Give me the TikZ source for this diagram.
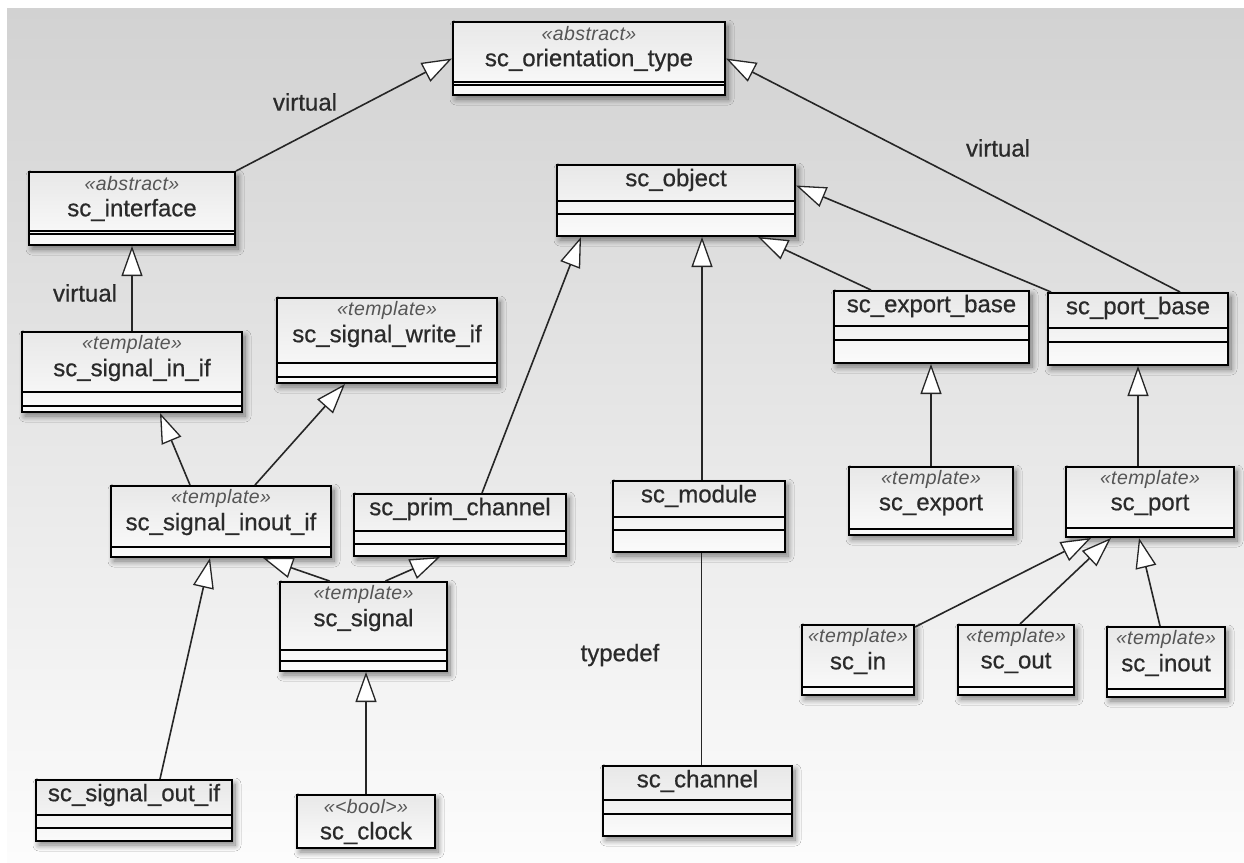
\documentclass[tikz,border=0pt]{standalone}
\usepackage{fontspec}
\setmainfont{Liberation Sans}
\newfontfamily\namefont[FakeBold=0.6]{Liberation Sans}
\newfontfamily\stereofont[LetterSpace=2]{Liberation Sans}
\usetikzlibrary{arrows.meta,calc,shadows.blur}

\definecolor{bgtop}{HTML}{D2D2D2}
\definecolor{bgbot}{HTML}{FCFCFC}
\definecolor{ink}{HTML}{2A2A2A}
\definecolor{stink}{HTML}{555555}
\definecolor{boxtop}{HTML}{E8E8E8}
\definecolor{boxbot}{HTML}{FBFBFB}

\tikzset{
  classbox/.style={rectangle, draw=black, line width=2pt, inner sep=0pt,
    top color=boxtop, bottom color=boxbot,
    blur shadow={shadow xshift=3pt, shadow yshift=-4pt, shadow blur steps=10,
      shadow blur radius=6pt, shadow opacity=50}},
  compline/.style={draw=black, line width=1.5pt},
  titletext/.style={inner sep=0pt, text=ink, font=\namefont\fontsize{24}{26}\selectfont},
  stereotext/.style={inner sep=0pt, text=stink, font=\stereofont\itshape\fontsize{19.5}{21}\selectfont},
  labeltext/.style={inner sep=0pt, text=ink, font=\namefont\fontsize{24}{26}\selectfont},
  inherit/.style={draw=black!85, line width=1.6pt,
    -{Triangle[length=30pt, width=21pt, fill=white, line width=1.3pt]}},
  alias/.style={draw=black!85, line width=1.6pt},
}

% #1 name, #2 left, #3 top, #4 right, #5 bottom, #6 stereotype, #7 title, #8 compartment rules
\newcommand\umlclass[8]{%
  \pgfmathsetmacro\ucw{#4-#2}%
  \pgfmathsetmacro\uch{#5-#3}%
  \node[classbox, minimum width=\ucw pt, minimum height=\uch pt] (#1) at ({(#2+#4)/2},{(#3+#5)/2}) {};
  \if\relax\detokenize{#8}\relax\else
    \foreach \ly in {#8} \draw[compline] (#2,\ly) -- (#4,\ly);
  \fi
  \if\relax\detokenize{#6}\relax
    \node[titletext] (#1-title) at ({(#2+#4)/2},{#3+15}) {#7};
  \else
    \node[stereotext] (#1-stereo) at ({(#2+#4)/2},{#3+12}) {#6};
    \node[titletext] (#1-title) at ({(#2+#4)/2},{#3+38}) {#7};
  \fi
}

\begin{document}
\begin{tikzpicture}[x=1pt, y=-1pt]
  \useasboundingbox (0,0) rectangle (1244,862);
  \fill[white] (0,0) rectangle (1244,862);
  \shade[top color=bgtop, bottom color=bgbot] (7,8) rectangle (1244,862);

  % classes
  \umlclass{ot}{453}{22}{725}{95}{«abstract»}{sc\_orientation\_type}{82,85}
  \umlclass{if}{29}{172}{235}{245}{«abstract»}{sc\_interface}{231,234}
  \umlclass{inif}{22}{332}{242}{412}{«template»}{sc\_signal\_in\_if}{392,406}
  \umlclass{wif}{277}{298}{497}{383}{«template»}{sc\_signal\_write\_if}{363,377}
  \umlclass{obj}{557}{165}{795}{236}{}{sc\_object}{201,214}
  \umlclass{exb}{834}{291}{1029}{363}{}{sc\_export\_base}{326,340}
  \umlclass{ptb}{1048}{293}{1228}{365}{}{sc\_port\_base}{328,342}
  \umlclass{inout}{111}{486}{331}{557}{«template»}{sc\_signal\_inout\_if}{547}
  \umlclass{prim}{354}{494}{566}{556}{}{sc\_prim\_channel}{531,544}
  \umlclass{mod}{613}{481}{785}{552}{}{sc\_module}{517,530}
  \umlclass{exp}{849}{467}{1013}{535}{«template»}{sc\_export}{529}
  \umlclass{port}{1066}{467}{1234}{537}{«template»}{sc\_port}{528}
  \umlclass{sig}{280}{582}{447}{671}{«template»}{sc\_signal}{650,661}
  \umlclass{clk}{297}{795}{435}{848}{«<bool>»}{sc\_clock}{}
  \umlclass{out}{36}{780}{232}{841}{}{sc\_signal\_out\_if}{815,828}
  \umlclass{ch}{603}{766}{792}{836}{}{sc\_channel}{800,814}
  \umlclass{in}{802}{625}{914}{695}{«template»}{sc\_in}{687}
  \umlclass{outp}{958}{625}{1074}{695}{«template»}{sc\_out}{687}
  \umlclass{inoutp}{1107}{627}{1225}{697}{«template»}{sc\_inout}{689}

  % generalizations
  \draw[inherit] (if.north east) -- (ot.west);
  \draw[inherit] ($(ptb.north)+(42,0)$) -- (ot.east);
  \draw[inherit] (inif.north) -- (inif.north |- if.south);
  \draw[inherit] ($(inout.north)+(-31,0)$) -- ($(inif.south)+(28,0)$);
  \draw[inherit] ($(inout.north)+(34,0)$) -- ($(wif.south)+(-42,0)$);
  \draw[inherit] ($(prim.north)+(22,0)$) -- ($(obj.south west)+(25,0)$);
  \draw[inherit] ($(mod.north)+(3,0)$) -- ($(mod.north |- obj.south)+(3,0)$);
  \draw[inherit] ($(exb.north west)+(38,0)$) -- ($(obj.south east)+(-38,0)$);
  \draw[inherit] ($(ptb.north west)+(4,0)$) -- ($(obj.east)+(0,-15)$);
  \draw[inherit] (exp.north) -- (exp.north |- exb.south);
  \draw[inherit] (ptb.south |- port.north) -- (ptb.south);
  \draw[inherit] ($(in.north east)+(0,3)$) -- ($(port.south west)+(26,0)$);
  \draw[inherit] ($(outp.north)+(4,0)$) -- ($(port.south west)+(46,0)$);
  \draw[inherit] ($(inoutp.north)+(-6,0)$) -- ($(port.south west)+(74,0)$);
  \draw[inherit] ($(out.north)+(26,0)$) -- ($(inout.south)+(-11,0)$);
  \draw[inherit] ($(sig.north)+(-34,0)$) -- ($(inout.south east)+(-69,0)$);
  \draw[inherit] ($(sig.north)+(22,0)$) -- ($(prim.south)+(-20,0)$);
  \draw[inherit] (clk.north) -- (clk.north |- sig.south);
  \draw[alias] ($(ch.north)+(4,0)$) -- ($(ch.north |- mod.south)+(4,0)$);

  % connector labels
  \node[labeltext] (lbl-ot-if) at (305,102) {virtual};
  \node[labeltext] (lbl-ot-ptb) at (998,148) {virtual};
  \node[labeltext] (lbl-if-inif) at (85,293) {virtual};
  \node[labeltext] (lbl-typedef) at (620,655) {typedef};
\end{tikzpicture}
\end{document}
